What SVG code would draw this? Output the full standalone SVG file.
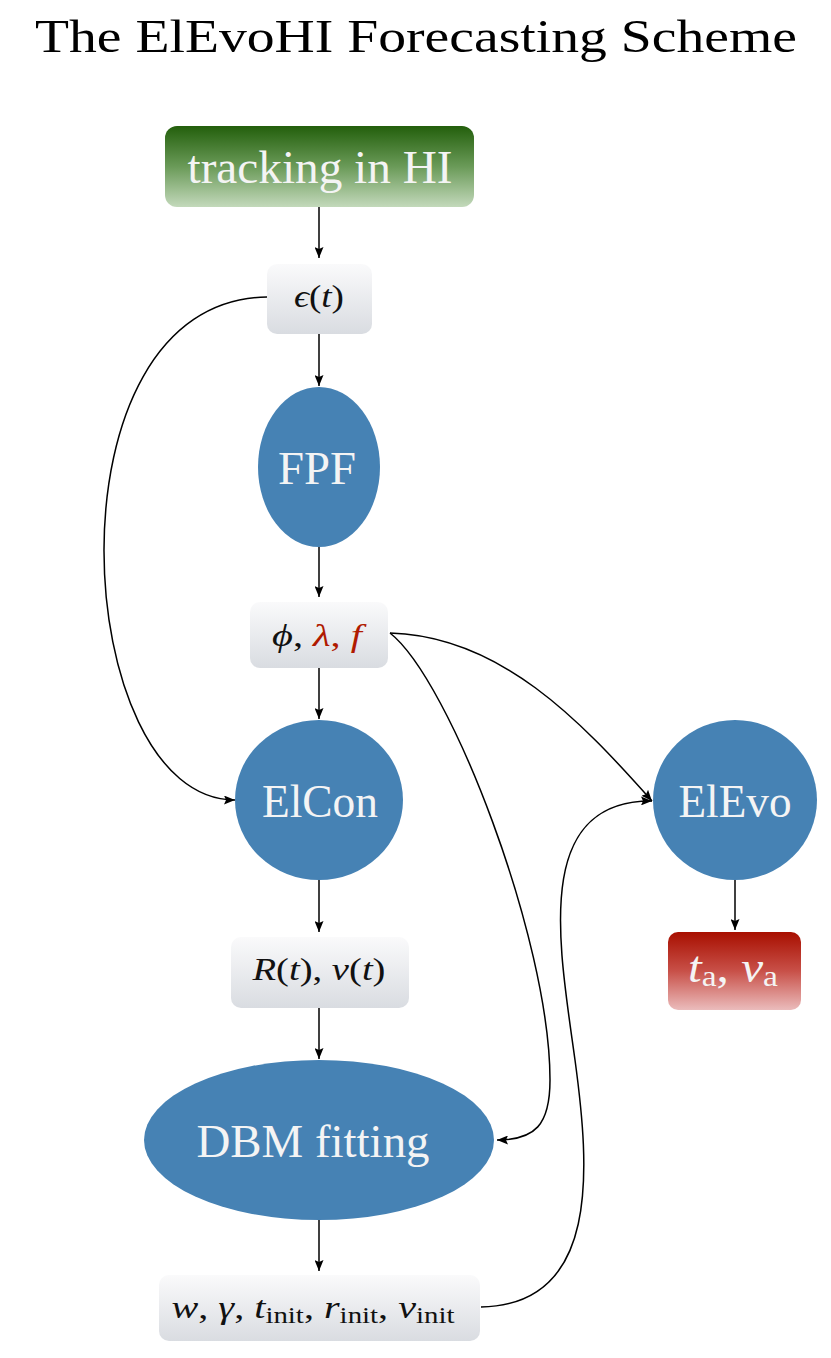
<svg xmlns="http://www.w3.org/2000/svg" width="831" height="1358" viewBox="0 0 831 1358">
<defs>
<linearGradient id="gBox" x1="0" y1="0" x2="0" y2="1"><stop offset="0" stop-color="#fafafb"/><stop offset="1" stop-color="#d9dce1"/></linearGradient>
<linearGradient id="gGreen" x1="0" y1="0" x2="0" y2="1"><stop offset="0" stop-color="#235f0c"/><stop offset="0.5" stop-color="#6a9a58"/><stop offset="1" stop-color="#c3d9bb"/></linearGradient>
<linearGradient id="gRed" x1="0" y1="0" x2="0" y2="1"><stop offset="0" stop-color="#a80f00"/><stop offset="0.5" stop-color="#c85048"/><stop offset="1" stop-color="#ebbcbc"/></linearGradient>
<marker id="arr" viewBox="0 0 11 9" refX="11" refY="4.5" markerWidth="11" markerHeight="9" markerUnits="userSpaceOnUse" orient="auto"><path d="M0,0 L11,4.5 L0,9 L2,4.5 Z" fill="#000"/></marker>
</defs>
<style>
.t{font-family:"Liberation Serif","DejaVu Serif",serif;}
.w{fill:#f4f4f4;}
.m{font-family:"Liberation Serif","DejaVu Serif",serif;font-style:italic;fill:#111;}
.e{fill:#4682b4;}
.c{fill:none;stroke:#000;stroke-width:1.5;marker-end:url(#arr);}
</style>
<text class="t" x="416" y="52" font-size="46" text-anchor="middle" textLength="762" lengthAdjust="spacingAndGlyphs">The ElEvoHI Forecasting Scheme</text>

<g id="connectors">
<path class="c" d="M319,207 L319,258"/>
<path class="c" d="M319,334 L319,386"/>
<path class="c" d="M319,546 L319,597"/>
<path class="c" d="M319,668 L319,719"/>
<path class="c" d="M319,880 L319,932"/>
<path class="c" d="M319,1008 L319,1059"/>
<path class="c" d="M319,1220 L319,1271"/>
<path class="c" d="M735,880 L735,930"/>
<path class="c" d="M267,297 C40,300 70,800 235,800"/>
<path class="c" d="M390,633 C500,636 580,720 652,801"/>
<path class="c" d="M390,633 C450,680 550,940 550,1080 C550,1125 535,1140 497,1140"/>
<path class="c" d="M481,1307 C600,1305 590,1170 575,1060 C560,950 530,800 652,801"/>
</g>

<g id="tracking">
<rect x="165" y="126" width="309" height="81" rx="12" fill="url(#gGreen)"/>
<text class="t w" x="320" y="183" font-size="47" text-anchor="middle" textLength="265" lengthAdjust="spacingAndGlyphs">tracking in HI</text>
</g>
<g id="epsilon">
<rect x="267" y="264" width="105" height="70" rx="10" fill="url(#gBox)"/>
<text class="m" x="319" y="307" font-size="32" text-anchor="middle" textLength="50" lengthAdjust="spacingAndGlyphs">ϵ<tspan font-style="normal">(</tspan>t<tspan font-style="normal">)</tspan></text>
</g>
<g id="FPF">
<ellipse class="e" cx="319" cy="467" rx="61" ry="80"/>
<text class="t w" x="317" y="484" font-size="47" text-anchor="middle" textLength="78" lengthAdjust="spacingAndGlyphs">FPF</text>
</g>
<g id="phi">
<rect x="250" y="602" width="138" height="66" rx="10" fill="url(#gBox)"/>
<text class="m" x="317" y="646" font-size="32" text-anchor="middle" textLength="90" lengthAdjust="spacingAndGlyphs">ϕ<tspan font-style="normal">, </tspan><tspan fill="#b01a00">λ</tspan><tspan fill="#b01a00" font-style="normal">, </tspan><tspan fill="#b01a00">f</tspan></text>
</g>
<g id="ElCon">
<ellipse class="e" cx="319" cy="800" rx="84" ry="80"/>
<text class="t w" x="320" y="817" font-size="47" text-anchor="middle" textLength="116" lengthAdjust="spacingAndGlyphs">ElCon</text>
</g>
<g id="Rv">
<rect x="231" y="937" width="178" height="71" rx="10" fill="url(#gBox)"/>
<text class="m" x="319" y="980" font-size="32" text-anchor="middle" textLength="133" lengthAdjust="spacingAndGlyphs">R<tspan font-style="normal">(</tspan>t<tspan font-style="normal">), </tspan>v<tspan font-style="normal">(</tspan>t<tspan font-style="normal">)</tspan></text>
</g>
<g id="DBM">
<ellipse class="e" cx="319" cy="1140" rx="175" ry="80"/>
<text class="t w" x="313" y="1157" font-size="47" text-anchor="middle" textLength="233" lengthAdjust="spacingAndGlyphs">DBM fitting</text>
</g>
<g id="params">
<rect x="159" y="1275" width="321" height="66" rx="10" fill="url(#gBox)"/>
<text class="m" x="313" y="1318" font-size="32" text-anchor="middle" textLength="283" lengthAdjust="spacingAndGlyphs">w<tspan font-style="normal">, </tspan>γ<tspan font-style="normal">, </tspan>t<tspan font-style="normal" font-size="23" dy="5">init</tspan><tspan font-style="normal" dy="-5">, </tspan>r<tspan font-style="normal" font-size="23" dy="5">init</tspan><tspan font-style="normal" dy="-5">, </tspan>v<tspan font-style="normal" font-size="23" dy="5">init</tspan></text>
</g>
<g id="ElEvo">
<ellipse class="e" cx="735" cy="800" rx="82" ry="80"/>
<text class="t w" x="735" y="817" font-size="47" text-anchor="middle" textLength="113" lengthAdjust="spacingAndGlyphs">ElEvo</text>
</g>
<g id="result">
<rect x="668" y="932" width="133" height="78" rx="10" fill="url(#gRed)"/>
<text class="t w" x="733" y="982" font-size="44" text-anchor="middle" textLength="90" lengthAdjust="spacingAndGlyphs"><tspan font-style="italic">t</tspan><tspan font-size="30" dy="4">a</tspan><tspan dy="-4">, </tspan><tspan font-style="italic">v</tspan><tspan font-size="30" dy="4">a</tspan></text>
</g>
</svg>
